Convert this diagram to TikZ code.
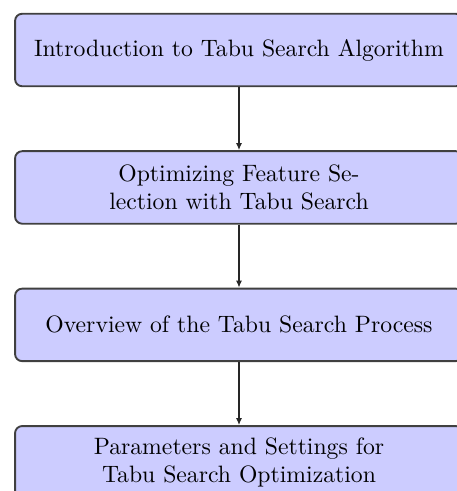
\documentclass[tikz,border=0pt]{standalone}
\usetikzlibrary{positioning,arrows.meta}

\providecommand{\tabuBoxFill}{blue!20}
\providecommand{\tabuBoxDraw}{black!75}
\providecommand{\tabuBoxLineWidth}{0.8pt}
\providecommand{\tabuFlowColor}{black!85}

\tikzset{
  stagebox/.style={rectangle, rounded corners=3pt, draw=\tabuBoxDraw, fill=\tabuBoxFill,
    line width=\tabuBoxLineWidth, minimum width=189pt, minimum height=30.6pt, align=center},
  flow/.style={draw=\tabuFlowColor, line width=0.6pt, -{Latex[length=3pt,width=2.6pt]}}
}

\begin{document}
\begin{tikzpicture}
\def\pxsz{0.422pt}
\begin{scope}[x=\pxsz, y=-\pxsz, node distance=26.6pt]
  % Page frame, the boxes run past its right and bottom edges
  \useasboundingbox (0,0) rectangle (457,491);
  % Stages
  \node[stagebox] (intro) at (239,50) {Introduction to Tabu Search Algorithm};
  \node[stagebox, below=of intro] (select) {Optimizing Feature Se-\\lection with Tabu Search};
  \node[stagebox, below=of select] (overview) {Overview of the Tabu Search Process};
  \node[stagebox, below=of overview] (params) {Parameters and Settings for\\Tabu Search Optimization};
  % Connectors
  \draw[flow] (intro) -- (select);
  \draw[flow] (select) -- (overview);
  \draw[flow] (overview) -- (params);
\end{scope}
\end{tikzpicture}
\end{document}
